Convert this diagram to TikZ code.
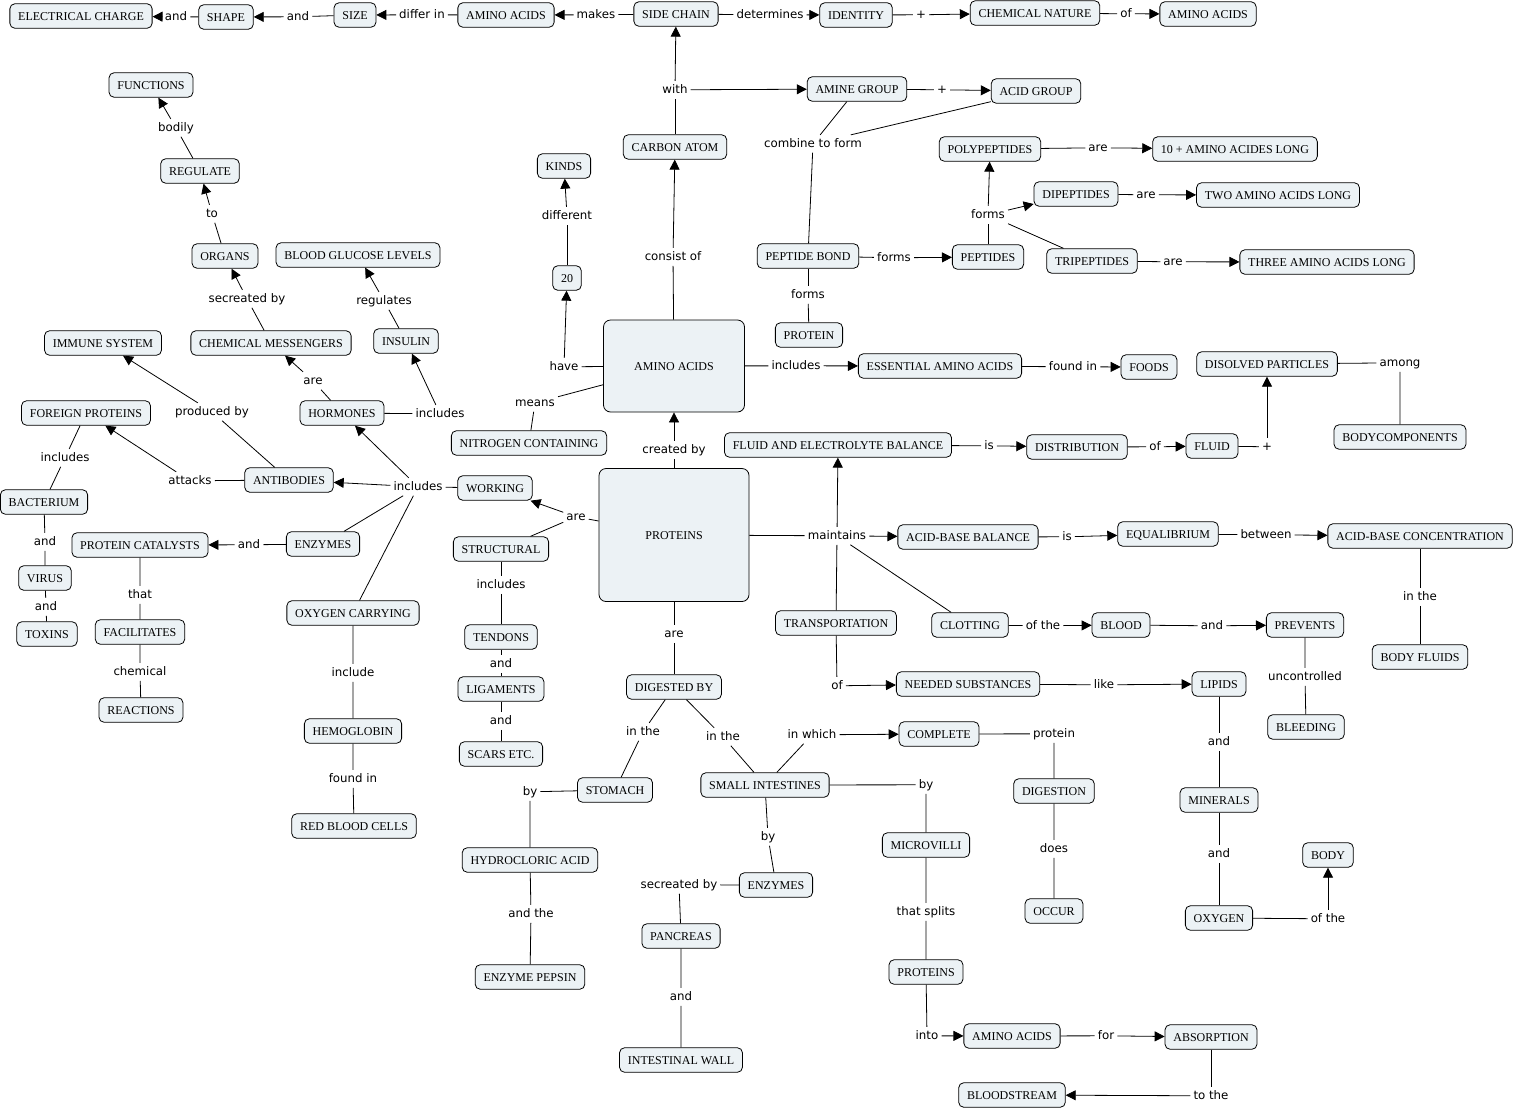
\documentclass[tikz,border=0pt]{standalone}
\usepackage{fontspec}
\usetikzlibrary{arrows.meta}
\newfontfamily\nodefnt{Liberation Serif}
\newfontfamily\labfnt{DejaVu Sans}
\definecolor{nodefill}{RGB}{236,242,245}
\tikzset{
  concept/.style={draw, line width=0.8pt, rounded corners=5pt, fill=nodefill,
    font=\nodefnt\fontsize{12}{14}\selectfont, inner xsep=8.3pt, inner ysep=0pt,
    minimum height=24.5pt, text height=8.5pt, text depth=0pt},
  bigbox/.style={concept, rounded corners=7pt},
  lab/.style={font=\labfnt\fontsize{11.8}{14}\selectfont, inner sep=3pt, text height=9pt, text depth=2.5pt, yshift=-0.8pt},
  ln/.style={line width=0.8pt},
  arr/.style={line width=0.8pt, -{Triangle[length=10pt,width=10pt]}}
}
\begin{document}
\begin{tikzpicture}[x=1pt,y=-1pt]
\useasboundingbox (0,0) rectangle (1515,1109);
% ---------- concepts ----------
\node[concept] (ec) at (81,16) {ELECTRICAL CHARGE};
\node[concept] (shape) at (226,17) {SHAPE};
\node[concept] (size) at (355,15) {SIZE};
\node[concept] (aa1) at (506,15) {AMINO ACIDS};
\node[concept] (sidechain) at (676,14) {SIDE CHAIN};
\node[concept] (identity) at (856,15) {IDENTITY};
\node[concept] (chemnat) at (1035,13) {CHEMICAL NATURE};
\node[concept] (aa2) at (1208,14) {AMINO ACIDS};
\node[concept] (functions) at (151,85) {FUNCTIONS};
\node[concept] (regulate) at (200,171) {REGULATE};
\node[concept] (organs) at (225,256) {ORGANS};
\node[concept] (bgl) at (358,255) {BLOOD GLUCOSE LEVELS};
\node[concept] (immune) at (103,343) {IMMUNE SYSTEM};
\node[concept] (chemmess) at (271,343) {CHEMICAL MESSENGERS};
\node[concept] (insulin) at (406,341) {INSULIN};
\node[concept] (hormones) at (342,413) {HORMONES};
\node[concept] (foreign) at (86,413) {FOREIGN PROTEINS};
\node[concept] (antibodies) at (289,480) {ANTIBODIES};
\node[concept] (bacterium) at (44,502) {BACTERIUM};
\node[concept] (virus) at (45,578) {VIRUS};
\node[concept] (toxins) at (47,634) {TOXINS};
\node[concept] (catalysts) at (140,545) {PROTEIN CATALYSTS};
\node[concept] (enzymesA) at (323,544) {ENZYMES};
\node[concept] (facil) at (140,632) {FACILITATES};
\node[concept] (reactions) at (141,710) {REACTIONS};
\node[concept] (oxycarry) at (353,613) {OXYGEN CARRYING};
\node[concept] (hemo) at (353,731) {HEMOGLOBIN};
\node[concept] (rbc) at (354,826) {RED BLOOD CELLS};
\node[concept] (kinds) at (564,166) {KINDS};
\node[concept] (twenty) at (567,278) {20};
\node[concept] (carbon) at (675,147) {CARBON ATOM};
\node[concept] (amine) at (857,89) {AMINE GROUP};
\node[concept] (acid) at (1036,91) {ACID GROUP};
\node[concept] (poly) at (990,149) {POLYPEPTIDES};
\node[concept] (tenplus) at (1235,149) {10 + AMINO ACIDES LONG};
\node[concept] (di) at (1076,194) {DIPEPTIDES};
\node[concept] (twoaa) at (1278,195) {TWO AMINO ACIDS LONG};
\node[concept] (pbond) at (808,256) {PEPTIDE BOND};
\node[concept] (peptides) at (988,257) {PEPTIDES};
\node[concept] (tri) at (1092,261) {TRIPEPTIDES};
\node[concept] (threeaa) at (1327,262) {THREE AMINO ACIDS LONG};
\node[concept] (proteinA) at (809,335) {PROTEIN};
\node[bigbox, minimum width=141pt, minimum height=92pt] (bigaa) at (674,366) {AMINO ACIDS};
\node[concept] (essential) at (940,366) {ESSENTIAL AMINO ACIDS};
\node[concept] (foods) at (1149,367) {FOODS};
\node[concept] (disolved) at (1267,364) {DISOLVED PARTICLES};
\node[concept] (bodycomp) at (1400,437) {BODYCOMPONENTS};
\node[concept] (nitrogen) at (529,443) {NITROGEN CONTAINING};
\node[concept] (febal) at (838,445) {FLUID AND ELECTROLYTE BALANCE};
\node[concept] (distrib) at (1077,447) {DISTRIBUTION};
\node[concept] (fluid) at (1212,446) {FLUID};
\node[concept] (working) at (495,488) {WORKING};
\node[concept] (structural) at (501,549) {STRUCTURAL};
\node[bigbox, minimum width=150pt, minimum height=133pt] (proteins) at (674,535) {PROTEINS};
\node[concept] (acidbase) at (968,537) {ACID-BASE BALANCE};
\node[concept] (equil) at (1168,534) {EQUALIBRIUM};
\node[concept] (abconc) at (1420,536) {ACID-BASE CONCENTRATION};
\node[concept] (tendons) at (501,637) {TENDONS};
\node[concept] (ligaments) at (501,689) {LIGAMENTS};
\node[concept] (scars) at (501,754) {SCARS ETC.};
\node[concept] (transport) at (836,623) {TRANSPORTATION};
\node[concept] (clotting) at (970,625) {CLOTTING};
\node[concept] (blood) at (1121,625) {BLOOD};
\node[concept] (prevents) at (1305,625) {PREVENTS};
\node[concept] (bodyfluids) at (1420,657) {BODY FLUIDS};
\node[concept] (digested) at (674,687) {DIGESTED BY};
\node[concept] (needed) at (968,684) {NEEDED SUBSTANCES};
\node[concept] (lipids) at (1219,684) {LIPIDS};
\node[concept] (bleeding) at (1306,727) {BLEEDING};
\node[concept] (complete) at (939,734) {COMPLETE};
\node[concept] (stomach) at (615,790) {STOMACH};
\node[concept] (smallint) at (765,785) {SMALL INTESTINES};
\node[concept] (digestion) at (1054,791) {DIGESTION};
\node[concept] (minerals) at (1219,800) {MINERALS};
\node[concept] (microvilli) at (926,845) {MICROVILLI};
\node[concept] (hcl) at (530,860) {HYDROCLORIC ACID};
\node[concept] (enzymesB) at (776,885) {ENZYMES};
\node[concept] (body) at (1328,855) {BODY};
\node[concept] (occur) at (1054,911) {OCCUR};
\node[concept] (oxygen) at (1219,918) {OXYGEN};
\node[concept] (pancreas) at (681,936) {PANCREAS};
\node[concept] (proteinsB) at (926,972) {PROTEINS};
\node[concept] (pepsin) at (530,977) {ENZYME PEPSIN};
\node[concept] (aa3) at (1012,1036) {AMINO ACIDS};
\node[concept] (absorption) at (1211,1037) {ABSORPTION};
\node[concept] (intwall) at (681,1060) {INTESTINAL WALL};
\node[concept] (bloodstream) at (1012,1095) {BLOODSTREAM};
% ---------- link labels ----------
\node[lab] (l1) at (176,16) {and};
\node[lab] (l2) at (298,16) {and};
\node[lab] (l3) at (422,14) {differ in};
\node[lab] (l4) at (596,14) {makes};
\node[lab] (l5) at (770,14) {determines};
\node[lab] (l6) at (921,14) {+};
\node[lab] (l7) at (1126,13) {of};
\node[lab] (lwith) at (675,89) {with};
\node[lab] (lplus) at (942,89) {+};
\node[lab] (lcomb) at (813,143) {combine to form};
\node[lab] (lbodily) at (176,127) {bodily};
\node[lab] (lto) at (212,213) {to};
\node[lab] (lsec) at (247,298) {secreated by};
\node[lab] (lreg) at (384,300) {regulates};
\node[lab] (lare1) at (313,380) {are};
\node[lab] (linc1) at (440,413) {includes};
\node[lab] (lprod) at (212,411) {produced by};
\node[lab] (lattacks) at (190,480) {attacks};
\node[lab] (linc2) at (418,486) {includes};
\node[lab] (linc3) at (65,457) {includes};
\node[lab] (land1) at (45,541) {and};
\node[lab] (land2) at (46,606) {and};
\node[lab] (land3) at (249,544) {and};
\node[lab] (lthat) at (140,594) {that};
\node[lab] (lchem) at (140,671) {chemical};
\node[lab] (linclude) at (353,672) {include};
\node[lab] (lfound) at (353,778) {found in};
\node[lab] (ldiff) at (567,215) {different};
\node[lab] (lhave) at (564,366) {have};
\node[lab] (lmeans) at (535,402) {means};
\node[lab] (lconsist) at (673,256) {consist of};
\node[lab] (lare2) at (1098,147) {are};
\node[lab] (lforms1) at (988,214) {forms};
\node[lab] (lare3) at (1146,194) {are};
\node[lab] (lforms2) at (894,257) {forms};
\node[lab] (lare4) at (1173,261) {are};
\node[lab] (lforms3) at (808,294) {forms};
\node[lab] (linc4) at (796,365) {includes};
\node[lab] (lfoundin) at (1073,366) {found in};
\node[lab] (lamong) at (1400,362) {among};
\node[lab] (lcreated) at (674,449) {created by};
\node[lab] (lis1) at (989,445) {is};
\node[lab] (lof1) at (1155,446) {of};
\node[lab] (lplus2) at (1267,446) {+};
\node[lab] (lare5) at (576,516) {are};
\node[lab] (linc5) at (501,584) {includes};
\node[lab] (land4) at (501,663) {and};
\node[lab] (land5) at (501,720) {and};
\node[lab] (lmaint) at (837,535) {maintains};
\node[lab] (lis2) at (1067,536) {is};
\node[lab] (lbetween) at (1266,534) {between};
\node[lab] (linthe1) at (1420,596) {in the};
\node[lab] (lofthe1) at (1043,625) {of the};
\node[lab] (land6) at (1212,625) {and};
\node[lab] (lare6) at (674,633) {are};
\node[lab] (lof2) at (837,685) {of};
\node[lab] (llike) at (1104,684) {like};
\node[lab] (luncon) at (1305,676) {uncontrolled};
\node[lab] (linthe2) at (643,731) {in the};
\node[lab] (linthe3) at (723,736) {in the};
\node[lab] (linwhich) at (812,734) {in which};
\node[lab] (lprotein) at (1054,733) {protein};
\node[lab] (land7) at (1219,741) {and};
\node[lab] (lby1) at (530,791) {by};
\node[lab] (lby2) at (926,784) {by};
\node[lab] (lby3) at (768,836) {by};
\node[lab] (ldoes) at (1054,848) {does};
\node[lab] (land8) at (1219,853) {and};
\node[lab] (lsecb) at (679,884) {secreated by};
\node[lab] (landthe) at (531,913) {and the};
\node[lab] (lthatsplits) at (926,911) {that splits};
\node[lab] (lofthe2) at (1328,918) {of the};
\node[lab] (land9) at (681,996) {and};
\node[lab] (linto) at (927,1035) {into};
\node[lab] (lfor) at (1106,1035) {for};
\node[lab] (ltothe) at (1211,1095) {to the};
% ---------- connectors ----------
\draw[ln] (shape) -- (l1); \draw[arr] (l1) -- (ec);
\draw[ln] (size) -- (l2); \draw[arr] (l2) -- (shape);
\draw[ln] (aa1) -- (l3); \draw[arr] (l3) -- (size);
\draw[ln] (sidechain) -- (l4); \draw[arr] (l4) -- (aa1);
\draw[ln] (sidechain) -- (l5); \draw[arr] (l5) -- (identity);
\draw[ln] (identity) -- (l6); \draw[arr] (l6) -- (chemnat);
\draw[ln] (chemnat) -- (l7); \draw[arr] (l7) -- (aa2);
\draw[ln] (carbon) -- (lwith); \draw[arr] (lwith) -- (sidechain); \draw[arr] (lwith) -- (amine);
\draw[ln] (amine) -- (lplus); \draw[arr] (lplus) -- (acid);
\draw[ln] (amine) -- (lcomb); \draw[ln] (acid) -- (lcomb); \draw[ln] (lcomb) -- (pbond);
\draw[ln] (pbond) -- (lforms2); \draw[arr] (lforms2) -- (peptides);
\draw[ln] (peptides) -- (lforms1); \draw[arr] (lforms1) -- (poly); \draw[arr] (lforms1) -- (di); \draw[ln] (lforms1) -- (tri);
\draw[ln] (poly) -- (lare2); \draw[arr] (lare2) -- (tenplus);
\draw[ln] (di) -- (lare3); \draw[arr] (lare3) -- (twoaa);
\draw[ln] (tri) -- (lare4); \draw[arr] (lare4) -- (threeaa);
\draw[ln] (pbond) -- (lforms3); \draw[ln] (lforms3) -- (proteinA);
\draw[ln] (bigaa) -- (lconsist); \draw[arr] (lconsist) -- (carbon);
\draw[ln] (bigaa) -- (linc4); \draw[arr] (linc4) -- (essential);
\draw[ln] (essential) -- (lfoundin); \draw[arr] (lfoundin) -- (foods);
\draw[ln] (bigaa) -- (lhave); \draw[arr] (lhave) -- (twenty);
\draw[ln] (twenty) -- (ldiff); \draw[arr] (ldiff) -- (kinds);
\draw[ln] (bigaa) -- (lmeans); \draw[ln] (lmeans) -- (nitrogen);
\draw[ln] (proteins) -- (lcreated); \draw[arr] (lcreated) -- (bigaa);
\draw[ln] (proteins) -- (lare5); \draw[arr] (lare5) -- (working); \draw[ln] (lare5) -- (structural);
\draw[ln] (structural) -- (linc5) -- (tendons) -- (land4) -- (ligaments) -- (land5) -- (scars);
\draw[ln] (working) -- (linc2); \draw[arr] (linc2) -- (antibodies); \draw[arr] (linc2) -- (hormones);
\draw[ln] (linc2) -- (enzymesA); \draw[ln] (linc2) -- (oxycarry);
\draw[ln] (hormones) -- (linc1); \draw[arr] (linc1) -- (insulin);
\draw[ln] (insulin) -- (lreg); \draw[arr] (lreg) -- (bgl);
\draw[ln] (hormones) -- (lare1); \draw[arr] (lare1) -- (chemmess);
\draw[ln] (chemmess) -- (lsec); \draw[arr] (lsec) -- (organs);
\draw[ln] (organs) -- (lto); \draw[arr] (lto) -- (regulate);
\draw[ln] (regulate) -- (lbodily); \draw[arr] (lbodily) -- (functions);
\draw[ln] (antibodies) -- (lprod); \draw[arr] (lprod) -- (immune);
\draw[ln] (antibodies) -- (lattacks); \draw[arr] (lattacks) -- (foreign);
\draw[ln] (foreign) -- (linc3) -- (bacterium) -- (land1) -- (virus) -- (land2) -- (toxins);
\draw[ln] (enzymesA) -- (land3); \draw[arr] (land3) -- (catalysts);
\draw[ln] (catalysts) -- (lthat) -- (facil) -- (lchem) -- (reactions);
\draw[ln] (oxycarry) -- (linclude) -- (hemo) -- (lfound) -- (rbc);
\draw[ln] (proteins) -- (lare6) -- (digested);
\draw[ln] (digested) -- (linthe2) -- (stomach);
\draw[ln] (stomach) -- (lby1) -- (hcl) -- (landthe) -- (pepsin);
\draw[ln] (digested) -- (linthe3) -- (smallint);
\draw[ln] (smallint) -- (linwhich); \draw[arr] (linwhich) -- (complete);
\draw[ln] (complete) -- (lprotein) -- (digestion) -- (ldoes) -- (occur);
\draw[ln] (smallint) -- (lby2) -- (microvilli) -- (lthatsplits) -- (proteinsB) -- (linto);
\draw[arr] (linto) -- (aa3);
\draw[ln] (aa3) -- (lfor); \draw[arr] (lfor) -- (absorption);
\draw[ln] (absorption) -- (ltothe); \draw[arr] (ltothe) -- (bloodstream);
\draw[ln] (smallint) -- (lby3) -- (enzymesB) -- (lsecb) -- (pancreas) -- (land9) -- (intwall);
\draw[ln] (proteins) -- (lmaint); \draw[arr] (lmaint) -- (acidbase); \draw[arr] (lmaint) -- (febal);
\draw[ln] (lmaint) -- (transport); \draw[ln] (lmaint) -- (clotting);
\draw[ln] (acidbase) -- (lis2); \draw[arr] (lis2) -- (equil);
\draw[ln] (equil) -- (lbetween); \draw[arr] (lbetween) -- (abconc);
\draw[ln] (abconc) -- (linthe1) -- (bodyfluids);
\draw[ln] (febal) -- (lis1); \draw[arr] (lis1) -- (distrib);
\draw[ln] (distrib) -- (lof1); \draw[arr] (lof1) -- (fluid);
\draw[ln] (fluid) -- (lplus2); \draw[arr] (lplus2) -- (disolved);
\draw[ln] (disolved) -- (lamong) -- (bodycomp);
\draw[ln] (transport) -- (lof2); \draw[arr] (lof2) -- (needed);
\draw[ln] (needed) -- (llike); \draw[arr] (llike) -- (lipids);
\draw[ln] (lipids) -- (land7) -- (minerals) -- (land8) -- (oxygen);
\draw[ln] (oxygen) -- (lofthe2); \draw[arr] (lofthe2) -- (body);
\draw[ln] (clotting) -- (lofthe1); \draw[arr] (lofthe1) -- (blood);
\draw[ln] (blood) -- (land6); \draw[arr] (land6) -- (prevents);
\draw[ln] (prevents) -- (luncon) -- (bleeding);
\end{tikzpicture}
\end{document}
